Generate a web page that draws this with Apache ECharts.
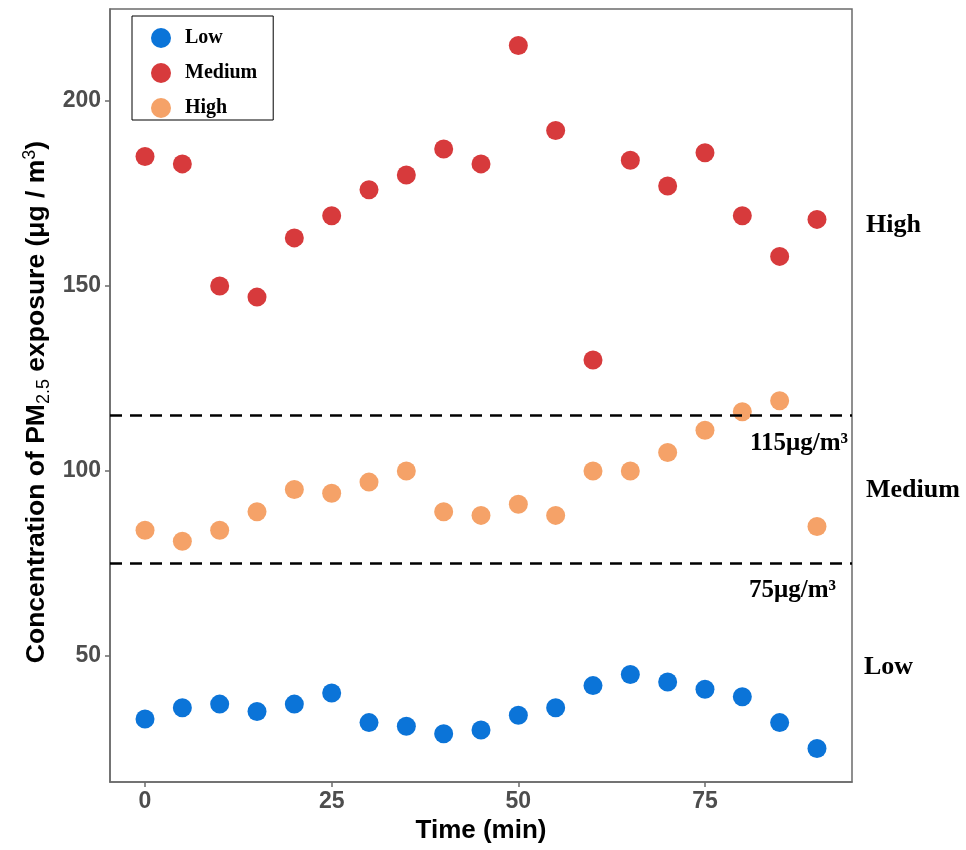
<!DOCTYPE html>
<html>
<head>
<meta charset="utf-8">
<script src="https://cdn.jsdelivr.net/npm/echarts@6/dist/echarts.min.js"></script>
<style>
html,body{margin:0;padding:0;background:#fff;}
#chart{width:966px;height:850px;}
</style>
</head>
<body>
<div id="chart"></div>
<script>
const times = [0,5,10,15,20,25,30,35,40,45,50,55,60,65,70,75,80,85,90];
const lowValues = [33,36,37,35,37,40,32,31,29,30,34,36,42,45,43,41,39,32,25];
const mediumValues = [185,183,150,147,163,169,176,180,187,183,215,192,130,184,177,186,169,158,168];
const highValues = [84,81,84,89,95,94,97,100,89,88,91,88,100,100,105,111,116,119,85];
const seriesNames = ['Low','Medium','High'];
const thresholds = [115, 75];
const thresholdLabels = ['115μg/m³', '75μg/m³'];
const xTicks = [0,25,50,75];
const yTicks = [50,100,150,200];
const bandLabels = ['High','Medium','Low'];

const colors = ['#0b74d8','#d73a3c','#f5a268'];
const sans = 'Liberation Sans, Arial, sans-serif';
const serif = 'Liberation Serif, Times New Roman, serif';

function pairs(vals){ return times.map((t,i)=>[t, vals[i]]); }

const chart = echarts.init(document.getElementById('chart'));
const axisGray = '#6b6b6b';
const labelDist = [[4,16],[16,15]];

const option = {
  animation: false,
  backgroundColor: '#fff',
  grid: {left:110, top:9, right:114, bottom:68, show:true, borderColor:axisGray, borderWidth:1.5, backgroundColor:'#fff'},
  xAxis: {
    type:'value', min:-4.69, max:94.69,
    name:'Time (min)', nameLocation:'middle', nameGap:35,
    nameTextStyle:{fontFamily:sans, fontWeight:'bold', fontSize:26, color:'#000'},
    splitLine:{show:false},
    axisLine:{show:true, onZero:false, lineStyle:{color:axisGray, width:1.5}},
    axisTick:{show:true, length:5, customValues:xTicks, lineStyle:{color:axisGray, width:1.5}},
    axisLabel:{customValues:xTicks, margin:8, fontFamily:sans, fontWeight:'bold', fontSize:23, color:'#4d4d4d'}
  },
  yAxis: {
    type:'value', min:15.95, max:224.86,
    splitLine:{show:false},
    axisLine:{show:true, onZero:false, lineStyle:{color:axisGray, width:1.5}},
    axisTick:{show:true, length:5, customValues:yTicks, lineStyle:{color:axisGray, width:1.5}},
    axisLabel:{customValues:yTicks, margin:9, fontFamily:sans, fontWeight:'bold', fontSize:23, color:'#4d4d4d'}
  },
  legend: {
    left:132, top:16, orient:'vertical',
    data: seriesNames,
    icon:'circle', itemWidth:20, itemHeight:20, itemGap:15,
    borderColor:'#000', borderWidth:1, borderRadius:0,
    padding:[12,16,2,19],
    backgroundColor:'#fff',
    textStyle:{fontFamily:serif, fontWeight:'bold', fontSize:20, color:'#000', padding:[0,0,0,9]}
  },
  series: [
    {name:seriesNames[0], type:'scatter', symbolSize:19, itemStyle:{color:colors[0], opacity:1}, data:pairs(lowValues), z:3},
    {name:seriesNames[1], type:'scatter', symbolSize:19, itemStyle:{color:colors[1], opacity:1}, data:pairs(mediumValues), z:3},
    {name:seriesNames[2], type:'scatter', symbolSize:19, itemStyle:{color:colors[2], opacity:1}, data:pairs(highValues), z:3,
      markLine:{
        silent:true, symbol:['none','none'], animation:false,
        lineStyle:{color:'#000', type:[12,8], width:2.5},
        label:{show:true, position:'insideEndBottom',
          fontFamily:serif, fontWeight:'bold', fontSize:25, color:'#000'},
        data: thresholds.map((v,i)=>({yAxis:v, label:{formatter:thresholdLabels[i], distance:labelDist[i]}}))
      }
    }
  ],
  graphic: [
    {type:'text', x:37, y:402, rotation:Math.PI/2,
      style:{
        text:'Concentration of PM{sub|2.5} exposure (μg / m{sup|3})',
        align:'center', verticalAlign:'middle',
        fontFamily:sans, fontWeight:'bold', fontSize:26.5, lineHeight:32, fill:'#000',
        rich:{
          sub:{fontFamily:sans, fontWeight:'normal', fontSize:18, verticalAlign:'bottom', lineHeight:20, fill:'#000'},
          sup:{fontFamily:sans, fontWeight:'normal', fontSize:18, verticalAlign:'top', lineHeight:18, fill:'#000'}
        }
      }
    },
    {type:'text', x:866, y:225, style:{text:bandLabels[0], align:'left', verticalAlign:'middle', fontFamily:serif, fontWeight:'bold', fontSize:26, fill:'#000'}},
    {type:'text', x:866, y:490, style:{text:bandLabels[1], align:'left', verticalAlign:'middle', fontFamily:serif, fontWeight:'bold', fontSize:26, fill:'#000'}},
    {type:'text', x:864, y:667, style:{text:bandLabels[2], align:'left', verticalAlign:'middle', fontFamily:serif, fontWeight:'bold', fontSize:26, fill:'#000'}}
  ]
};
chart.setOption(option);
</script>
</body>
</html>
